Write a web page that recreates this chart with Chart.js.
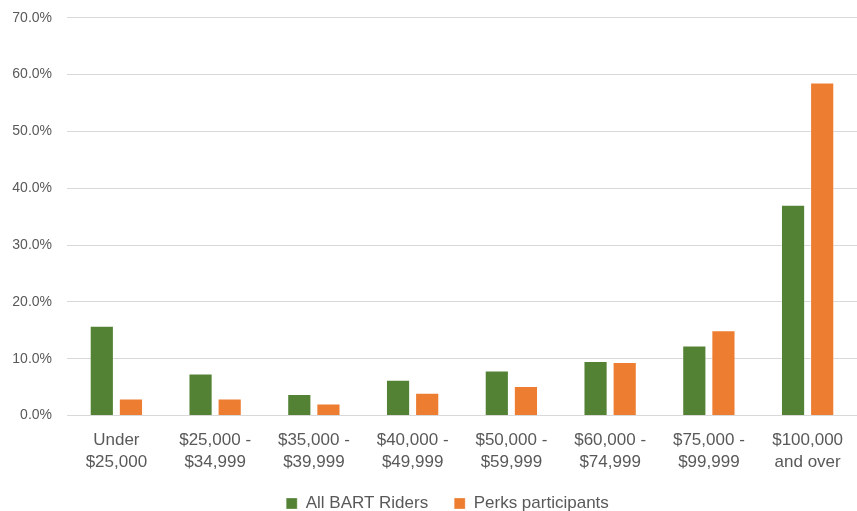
<!DOCTYPE html>
<html>
<head>
<meta charset="utf-8">
<script src="https://cdn.jsdelivr.net/npm/chart.js@4/dist/chart.umd.min.js"></script>
<style>
  html, body { margin: 0; padding: 0; background: #fff; }
  #wrap { width: 857px; height: 511px; position: relative; }
</style>
</head>
<body>
<div id="wrap"><canvas id="c" width="857" height="511"></canvas></div>
<script>
const categories = [
  ['Under', '$25,000'],
  ['$25,000 -', '$34,999'],
  ['$35,000 -', '$39,999'],
  ['$40,000 -', '$49,999'],
  ['$50,000 -', '$59,999'],
  ['$60,000 -', '$74,999'],
  ['$75,000 -', '$99,999'],
  ['$100,000', 'and over']
];
const seriesNames = ['All BART Riders', 'Perks participants'];
const allRiders = [15.8, 7.4, 3.8, 6.3, 7.9, 9.6, 12.3, 37.1];
const perks = [3.0, 3.0, 2.1, 4.0, 5.2, 9.4, 15.0, 58.6];
const yTicks = [0, 10, 20, 30, 40, 50, 60, 70];

const FONT = "'Liberation Sans', Arial, sans-serif";
const TEXT = '#595959';

const legendTweak = {
  id: 'legendTweak',
  beforeDraw(chart) {
    const lg = chart.legend;
    if (lg && !lg._tweaked) {
      lg.options.labels.padding = 26;
      lg.left += 1; lg.right += 1;
      lg.top -= 7;
      lg._tweaked = true;
    }
  }
};

new Chart(document.getElementById('c'), {
  type: 'bar',
  data: {
    labels: categories,
    datasets: [
      { label: seriesNames[0], data: allRiders, backgroundColor: '#548235', borderColor: 'rgba(255,255,255,0.3)', borderWidth: 1 },
      { label: seriesNames[1], data: perks, backgroundColor: '#ED7D31', borderColor: 'rgba(255,255,255,0.3)', borderWidth: 1 }
    ]
  },
  plugins: [legendTweak],
  options: {
    responsive: false,
    animation: false,
    events: [],
    layout: { padding: { left: 0, right: 0, top: 0, bottom: 0 } },
    datasets: { bar: { categoryPercentage: 0.59, barPercentage: 0.83 } },
    scales: {
      x: {
        grid: { display: false },
        border: { display: false },
        ticks: { color: TEXT, font: { family: FONT, size: 17, lineHeight: 1.3 }, padding: 6, maxRotation: 0, autoSkip: false },
        afterFit: (s) => { s.height = 60.5; }
      },
      y: {
        min: 0, max: 70,
        afterBuildTicks: (s) => { s.ticks = yTicks.map(v => ({ value: v })); },
        grid: { color: '#D9D9D9', lineWidth: 1, drawTicks: false },
        border: { display: false },
        ticks: { color: TEXT, font: { family: FONT, size: 14 }, padding: 15, callback: (v) => v.toFixed(1) + '%' },
        afterFit: (s) => { s.width = 67; s.paddingTop = 17.7; s.paddingBottom = 0; }
      }
    },
    plugins: {
      legend: {
        position: 'bottom',
        labels: { color: TEXT, font: { family: FONT, size: 17 }, boxWidth: 11, boxHeight: 11, padding: 8 }
      },
      tooltip: { enabled: false }
    }
  }
});
</script>
</body>
</html>
